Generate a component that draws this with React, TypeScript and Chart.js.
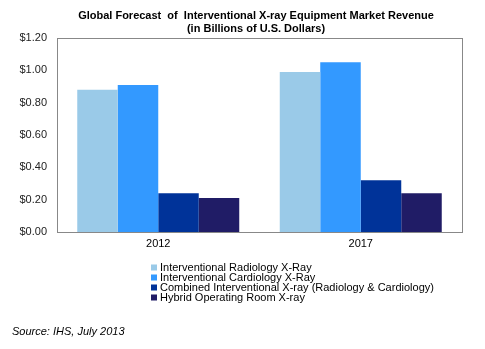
import React, { useEffect, useRef } from "react";
import { Chart, registerables } from "chart.js";

Chart.register(...registerables);

const categories = ["2012", "2017"];
const seriesNames = [
  "Interventional Radiology X-Ray",
  "Interventional Cardiology X-Ray",
  "Combined Interventional X-ray (Radiology & Cardiology)",
  "Hybrid Operating Room X-ray",
];
const radiology = [0.88, 0.99];
const cardiology = [0.91, 1.05];
const combined = [0.24, 0.32];
const hybrid = [0.21, 0.24];
const seriesColors = ["#9ACAE8", "#3399FF", "#003399", "#201C66"];
const titleLines = [
  "Global Forecast  of  Interventional X-ray Equipment Market Revenue",
  "(in Billions of U.S. Dollars)",
];
const sourceText = "Source: IHS, July 2013";

const W = 485;
const H = 349;
const FONT = "Arial, 'Liberation Sans', sans-serif";

const decorPlugin = {
  id: "decor",
  afterDatasetsDraw(chart: any) {
    const { ctx, chartArea } = chart;
    ctx.save();
    ctx.strokeStyle = "#888888";
    ctx.lineWidth = 1;
    ctx.strokeRect(
      Math.round(chartArea.left) + 0.5,
      Math.round(chartArea.top) + 0.5,
      Math.round(chartArea.right - chartArea.left),
      Math.round(chartArea.bottom - chartArea.top)
    );
    ctx.restore();
  },
  afterDraw(chart: any) {
    const { ctx } = chart;
    ctx.save();
    // Title
    ctx.fillStyle = "#000";
    ctx.font = `bold 11px ${FONT}`;
    ctx.textAlign = "center";
    ctx.textBaseline = "middle";
    ctx.fillText(titleLines[0], 256, 16);
    ctx.fillText(titleLines[1], 256, 29);
    // Legend
    ctx.font = `11px ${FONT}`;
    ctx.textAlign = "left";
    chart.data.datasets.forEach((ds: any, i: number) => {
      const y = 267.5 + i * 10;
      ctx.fillStyle = ds.backgroundColor;
      ctx.fillRect(151, y - 3, 6, 6);
      ctx.fillStyle = "#000";
      ctx.fillText(ds.label, 160, y);
    });
    // Source
    ctx.font = `italic 11px ${FONT}`;
    ctx.fillStyle = "#000";
    ctx.fillText(sourceText, 12, 332);
    ctx.restore();
  },
};

export default function App() {
  const ref = useRef<HTMLCanvasElement>(null);
  useEffect(() => {
    if (!ref.current) return;
    const values = [radiology, cardiology, combined, hybrid];
    const chart = new Chart(ref.current, {
      type: "bar",
      data: {
        labels: categories,
        datasets: seriesNames.map((name, i) => ({
          label: name,
          data: values[i],
          backgroundColor: seriesColors[i],
          borderWidth: 0,
          categoryPercentage: 0.8,
          barPercentage: 1.0,
        })),
      },
      options: {
        animation: false,
        responsive: false,
        devicePixelRatio: 1,
        layout: { padding: { left: 0, right: 23, top: 38, bottom: 90 } },
        plugins: {
          legend: { display: false },
          title: { display: false },
          tooltip: { enabled: false },
        },
        scales: {
          x: {
            grid: { display: false, drawTicks: false },
            border: { display: false },
            ticks: {
              padding: 5,
              color: "#000",
              font: { family: FONT, size: 11 },
              maxRotation: 0,
            },
            afterFit: (s: any) => {
              s.height = H - 232 - 90;
            },
          },
          y: {
            min: 0,
            max: 1.2,
            grid: { display: false, drawTicks: false },
            border: { display: false },
            ticks: {
              stepSize: 0.2,
              padding: 10,
              color: "#222",
              font: { family: FONT, size: 11 },
              callback: (v: any) => "$" + Number(v).toFixed(2),
            },
            afterFit: (s: any) => {
              s.width = 57;
            },
          },
        },
      },
      plugins: [decorPlugin],
    });
    return () => chart.destroy();
  }, []);
  return (
    <div style={{ position: "fixed", left: 0, top: 0, width: W, height: H, background: "#fff" }}>
      <canvas ref={ref} width={W} height={H} style={{ width: W, height: H, display: "block" }} />
    </div>
  );
}
